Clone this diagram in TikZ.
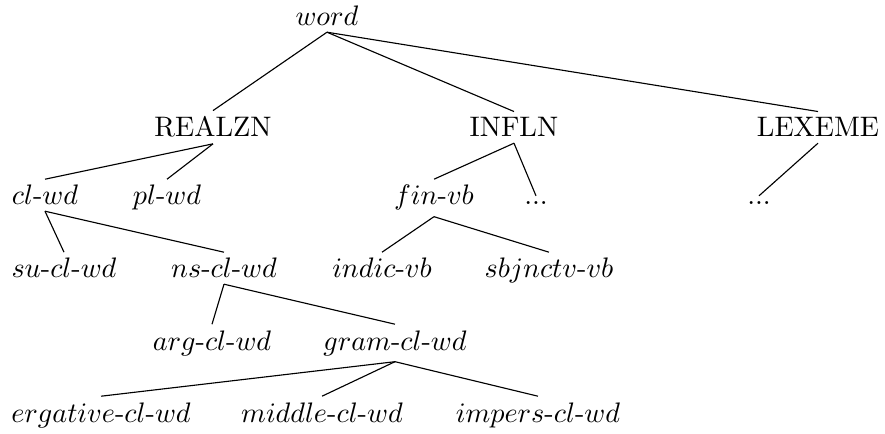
\documentclass[tikz,border=0pt]{standalone}
\begin{document}
\begin{tikzpicture}[x=0.3546pt,y=-0.3546pt,
    typ/.style={anchor=base,inner sep=2pt},
    cat/.style={anchor=base,inner sep=2pt}]
    \useasboundingbox (0,0) rectangle (885,434);
    %% Root
    \node[typ] (word) at (327,26) {$word$};
    %% Dimensions
    \node[cat] (realzn) at (213,137) {REALZN};
    \node[cat] (infln) at (514,137) {INFLN};
    \node[cat] (lexeme) at (818,137) {LEXEME};
    \draw (word.south) -- (realzn.north);
    \draw (word.south) -- (infln.north);
    \draw (word.south) -- (lexeme.north);
    %% Realization
    \node[typ] (clwd) at (45,205) {$cl$-$wd$};
    \node[typ] (plwd) at (167,205) {$pl$-$wd$};
    \draw (realzn.south) -- (clwd.north);
    \draw (realzn.south) -- (plwd.north);
    \node[typ] (sucl) at (64,278) {$su$-$cl$-$wd$};
    \node[typ] (nscl) at (224,278) {$ns$-$cl$-$wd$};
    \draw (clwd.south) -- (sucl.north);
    \draw (clwd.south) -- (nscl.north);
    \node[typ] (argcl) at (212,350) {$arg$-$cl$-$wd$};
    \node[typ] (gramcl) at (395,350) {$gram$-$cl$-$wd$};
    \draw (nscl.south) -- (argcl.north);
    \draw (nscl.south) -- (gramcl.north);
    \node[typ] (ergcl) at (101,422) {$ergative$-$cl$-$wd$};
    \node[typ] (midcl) at (322,422) {$middle$-$cl$-$wd$};
    \node[typ] (impcl) at (538,422) {$impers$-$cl$-$wd$};
    \draw (gramcl.south) -- (ergcl.north);
    \draw (gramcl.south) -- (midcl.north);
    \draw (gramcl.south) -- (impcl.north);
    %% Inflection
    \node[typ] (finvb) at (434,205) {$fin$-$vb$};
    \node[typ] (idots) at (536,205) {$...$};
    \draw (infln.south) -- (finvb.north);
    \draw (infln.south) -- (idots.north);
    \node[typ] (indic) at (382,278) {$indic$-$vb$};
    \node[typ] (sbj) at (549,278) {$sbjnctv$-$vb$};
    \draw (finvb.south) -- (indic.north);
    \draw (finvb.south) -- (sbj.north);
    %% Lexeme
    \node[typ] (ldots) at (759,205) {$...$};
    \draw (lexeme.south) -- (ldots.north);
\end{tikzpicture}
\end{document}
